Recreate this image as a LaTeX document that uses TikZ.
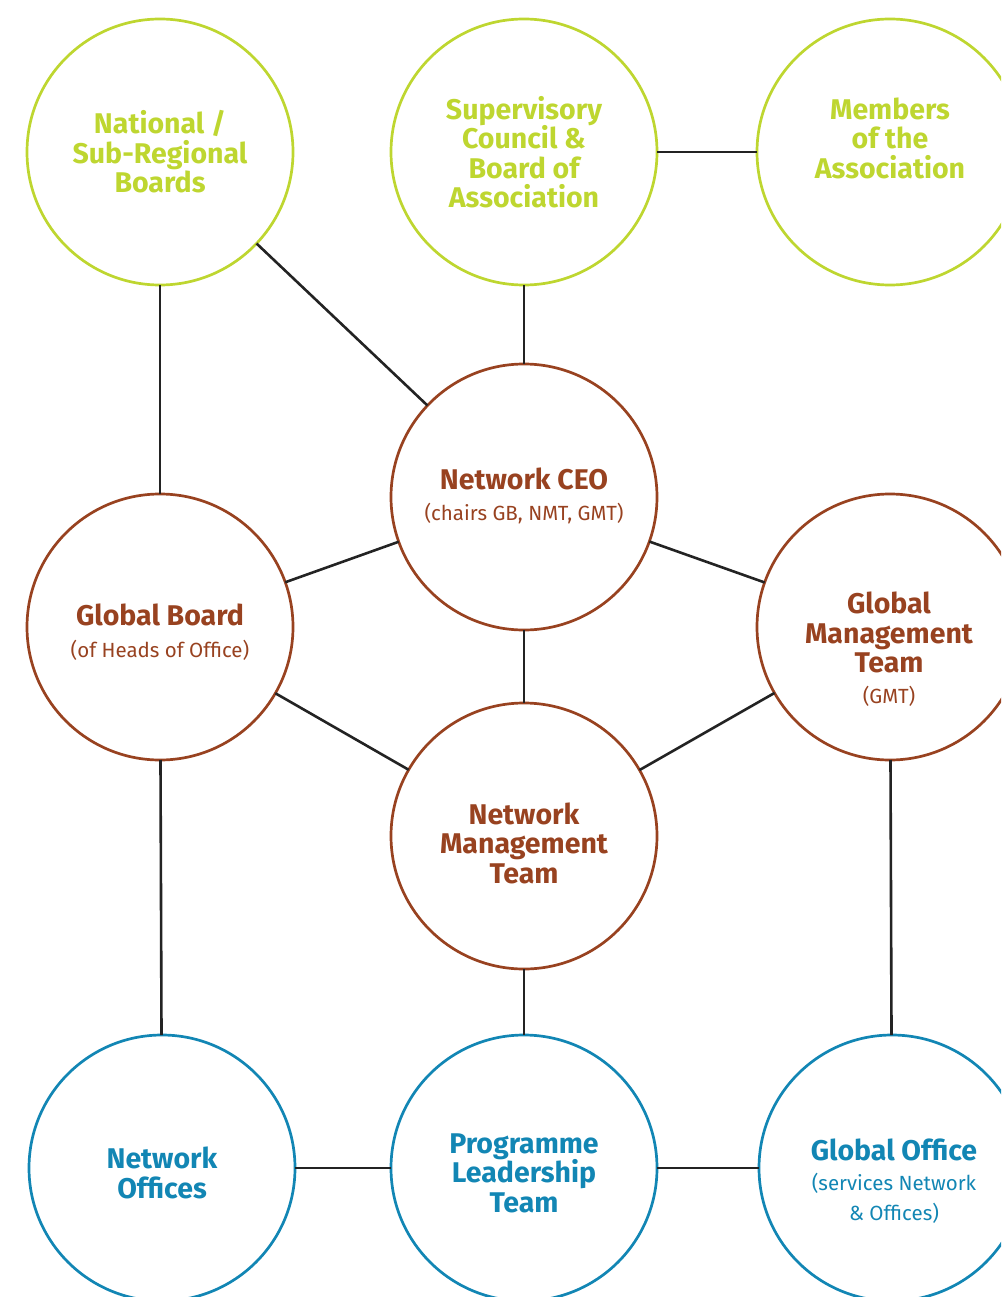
\documentclass[tikz,border=0pt]{standalone}
\usepackage{fontspec}
\setmainfont{Fira Sans}
\definecolor{cgreen}{RGB}{190,214,48}
\definecolor{cbrown}{RGB}{152,66,32}
\definecolor{cblue}{RGB}{18,134,180}
\definecolor{cline}{RGB}{35,35,35}
\newcommand\subf{\normalfont\fontsize{20.5}{28}\selectfont}
\begin{document}
\begin{tikzpicture}[x=1pt,y=-1pt,
  orb/.style={circle,draw=#1,line width=2.7pt,minimum size=266pt,inner sep=0pt,outer sep=0pt},
  ttl/.style={text=#1,align=center,font=\bfseries\fontsize{28.5}{29.5}\selectfont,inner sep=0pt},
  conn/.style={draw=cline,line width=2.6pt}]
\useasboundingbox (0,0) rectangle (1001,1297);
\clip (0,0) rectangle (1001,1297);
% circles
\node[orb=cgreen] (nat) at (160,152) {};
\node[orb=cgreen] (sup) at (524,152) {};
\node[orb=cgreen] (mem) at (890,152) {};
\node[orb=cbrown] (ceo) at (524,497) {};
\node[orb=cbrown] (gb) at (160,627) {};
\node[orb=cbrown] (gmt) at (890,627) {};
\node[orb=cbrown] (nmt) at (524,836) {};
\node[orb=cblue] (no) at (162,1168) {};
\node[orb=cblue] (plt) at (524,1168) {};
\node[orb=cblue] (go) at (892,1168) {};
% texts
\node[ttl=cgreen] (natT) at (160,152) {National /\\Sub-Regional\\Boards};
\node[ttl=cgreen] (supT) at (524,152) {Supervisory\\Council \&\\Board of\\Association};
\node[ttl=cgreen] (memT) at (890,138) {Members\\of the\\Association};
\node[ttl=cbrown] (ceoT) at (524,496) {Network CEO\\[2pt]\subf (chairs GB, NMT, GMT)};
\node[ttl=cbrown] (gbT) at (160,632) {Global Board\\[2pt]\subf (of Heads of Office)};
\node[ttl=cbrown] (gmtT) at (889,649) {Global\\Management\\Team\\[1pt]\subf (GMT)};
\node[ttl=cbrown] (nmtT) at (524,843) {Network\\Management\\Team};
\node[ttl=cblue] (noT) at (162,1173) {Network\\Offices};
\node[ttl=cblue] (pltT) at (524,1173) {Programme\\Leadership\\Team};
\node[ttl=cblue] (goT) at (894,1181) {Global Office\\[1pt]\subf (services Network\\\subf \& Offices)};
% connectors
\draw[conn] (nat) -- (gb);
\draw[conn] (nat) -- (ceo);
\draw[conn] (sup) -- (ceo);
\draw[conn] (sup) -- (mem);
\draw[conn] (ceo) -- (gb);
\draw[conn] (ceo) -- (gmt);
\draw[conn] (ceo) -- (nmt);
\draw[conn] (gb) -- (nmt);
\draw[conn] (gmt) -- (nmt);
\draw[conn] (gb) -- (no);
\draw[conn] (nmt) -- (plt);
\draw[conn] (gmt) -- (go);
\draw[conn] (no) -- (plt);
\draw[conn] (plt) -- (go);
\end{tikzpicture}
\end{document}
